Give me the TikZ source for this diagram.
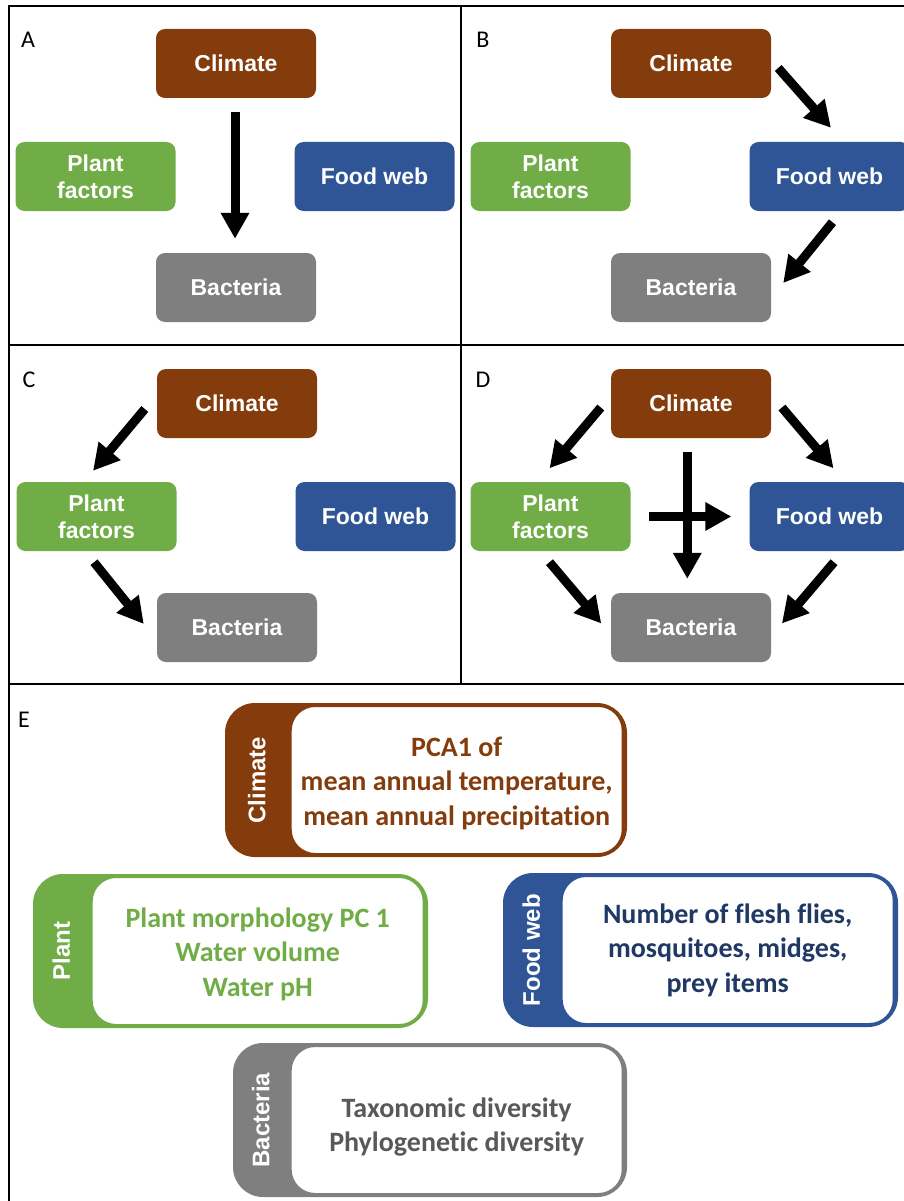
\documentclass[tikz,border=0pt]{standalone}
\usepackage{fontspec}
\setmainfont{Liberation Sans}
\newfontfamily\calibri[Ligatures=NoCommon]{Carlito}
\usetikzlibrary{arrows.meta,calc}

\definecolor{climcol}{HTML}{843C0C}
\definecolor{plantcol}{HTML}{70AD47}
\definecolor{foodcol}{HTML}{2F5597}
\definecolor{foodtext}{HTML}{203864}
\definecolor{bactcol}{HTML}{7F7F7F}
\definecolor{bacttext}{HTML}{595959}

\begin{document}
\begin{tikzpicture}[x=1pt,y=-1pt,
    box/.style={rounded corners=9pt,minimum width=160pt,minimum height=69pt,inner sep=0pt,
                text=white,align=center,font=\bfseries\fontsize{23}{27}\selectfont},
    link/.style={line width=9pt,-{Triangle[width=27pt,length=26pt]}},
    panel/.style={font=\calibri\fontsize{24}{28}\selectfont},
    band/.style={rounded corners=30pt,minimum height=154pt,inner sep=0pt},
    card/.style={fill=white,line width=3pt,rounded corners=25pt,minimum width=333pt,
                 minimum height=149pt,inner sep=0pt},
    cardtext/.style={align=center,inner sep=0pt,
                 font=\calibri\bfseries\fontsize{28}{34.5}\selectfont},
    tag/.style={rotate=90,text=white,font=\bfseries\fontsize{24}{28}\selectfont}]
  \useasboundingbox (0,0) rectangle (904,1201);

  % frame
  \draw[line width=2pt] (9,1210) -- (9,6) -- (910,6);
  \draw[line width=2pt] (461,6) -- (461,684);
  \draw[line width=2pt] (9,345) -- (910,345);
  \draw[line width=2pt] (9,684) -- (910,684);

  % panels A-D
  \foreach \p/\dx/\dy in {A/0/0,B/455/0,C/1/340,D/455/340}{
    \node[panel] (lab\p) at (28+\dx,40+\dy) {\p};
    \node[box,fill=climcol] (clim\p) at (236+\dx,63.5+\dy) {Climate};
    \node[box,fill=plantcol] (plant\p) at (95.5+\dx,176.5+\dy) {Plant\\factors};
    \node[box,fill=foodcol] (food\p) at (374.5+\dx,176.5+\dy) {Food web};
    \node[box,fill=bactcol] (bact\p) at (236+\dx,287.5+\dy) {Bacteria};
  }

  % A
  \draw[link] ([shift={(-1,14)}]climA.south) -- ([shift={(-1,-14)}]bactA.north);
  % B
  \draw[link] ([shift={(7,4.5)}]climB.east) -- ([shift={(1.5,-14)}]foodB.north);
  \draw[link] ([shift={(3,11)}]foodB.south) -- ([shift={(12,-4.5)}]bactB.east);
  % C
  \draw[link] ([shift={(-12,5.5)}]climC.west) -- ([shift={(-3.5,-11)}]plantC.north);
  \draw[link] ([shift={(-2.5,11)}]plantC.south) -- ([shift={(-13,-3.5)}]bactC.west);
  % D
  \draw[link] ([shift={(-10,4)}]climD.west) -- ([shift={(-1,-13.5)}]plantD.north);
  \draw[link] ([shift={(10.7,4)}]climD.east) -- ([shift={(4,-13.5)}]foodD.north);
  \draw[link] ([shift={(-1,11)}]plantD.south) -- ([shift={(-9.5,-4)}]bactD.west);
  \draw[link] ([shift={(4.5,11)}]foodD.south) -- ([shift={(10.7,-4)}]bactD.east);
  \draw[link] ([shift={(18,0)}]plantD.east) -- ([shift={(-18,0)}]foodD.west);
  \draw[link] ([shift={(-3.7,14)}]climD.south) -- ([shift={(-3.7,-14)}]bactD.north);

  % E
  \node[panel] (labE) at (24,720) {E};

  \node[band,fill=climcol,minimum width=402pt] (climBand) at (426,780) {};
  \node[card,draw=climcol,anchor=east] (climCard) at ([xshift=-2.5pt]climBand.east) {};
  \node[cardtext,text=climcol] (climText) at ([shift={(0,3)}]climCard.center)
    {PCA1 of\\mean annual temperature,\\mean annual precipitation};
  \node[tag] (climTag) at ($(climBand.west)!0.5!(climCard.west)$) {Climate};

  \node[band,fill=plantcol,minimum width=395pt] (plantBand) at (230.5,951) {};
  \node[card,draw=plantcol,anchor=east] (plantCard) at ([xshift=-2.5pt]plantBand.east) {};
  \node[cardtext,text=plantcol] (plantText) at ([shift={(0,3)}]plantCard.center)
    {Plant morphology PC 1\\Water volume\\Water pH};
  \node[tag] (plantTag) at ($(plantBand.west)!0.5!(plantCard.west)$) {Plant};

  \node[band,fill=foodcol,minimum width=395pt] (foodBand) at (700.5,950) {};
  \node[card,draw=foodcol,anchor=east] (foodCard) at ([xshift=-2.5pt]foodBand.east) {};
  \node[cardtext,text=foodtext] (foodText) at (foodCard.center)
    {Number of flesh flies,\\mosquitoes, midges,\\prey items};
  \node[tag] (foodTag) at ($(foodBand.west)!0.5!(foodCard.west)$) {Food web};

  \node[band,fill=bactcol,minimum width=394pt] (bactBand) at (430,1120) {};
  \node[card,draw=bactcol,anchor=east] (bactCard) at ([xshift=-2.5pt]bactBand.east) {};
  \node[cardtext,text=bacttext] (bactText) at ([shift={(0,7)}]bactCard.center)
    {Taxonomic diversity\\Phylogenetic diversity};
  \node[tag] (bactTag) at ($(bactBand.west)!0.5!(bactCard.west)$) {Bacteria};
\end{tikzpicture}
\end{document}
